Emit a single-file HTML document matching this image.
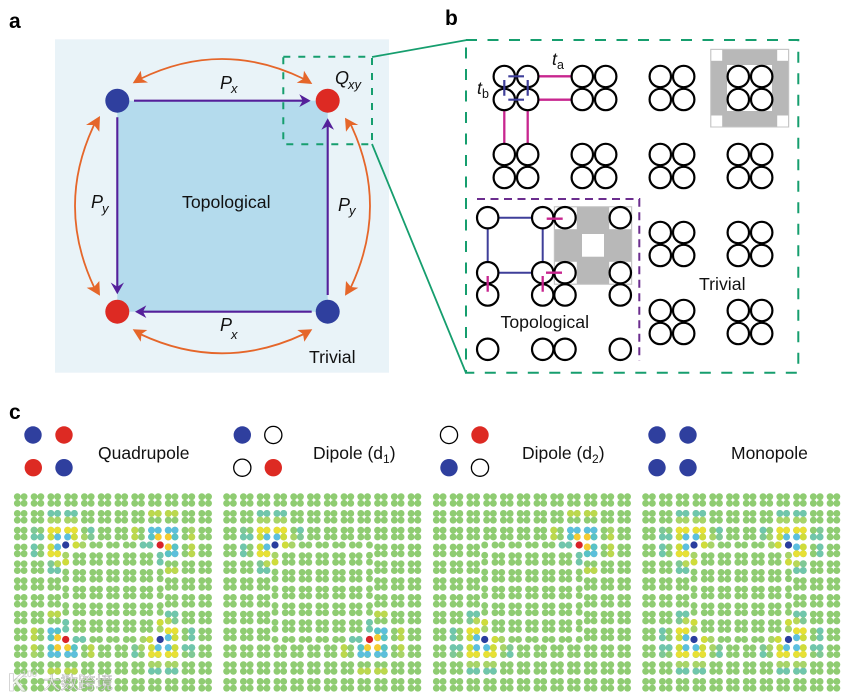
<!DOCTYPE html>
<html lang="en">
<head>
<meta charset="utf-8">
<title>Quadrupole diagram</title>
<style>
html,body{margin:0;padding:0;background:#fff;width:852px;height:697px;overflow:hidden}
svg{display:block}
text{font-family:"Liberation Sans","Noto Sans CJK SC",sans-serif;fill:#111}
.h{font-weight:bold;font-size:21px;fill:#000}
.l{font-size:17.7px}
.q{font-size:17.5px}
.i{font-style:italic;font-size:18px}
.s{font-style:italic;font-size:13px}
.ring circle{fill:none;stroke:#000;stroke-width:2.2}
</style>
</head>
<body>
<svg xmlns="http://www.w3.org/2000/svg" width="852" height="697" viewBox="0 0 852 697">
<defs>
  <filter id="soft" x="-2%" y="-2%" width="104%" height="104%"><feGaussianBlur stdDeviation="0.3"/></filter>
  <g id="c" fill="#8fcc72"><circle cx="-3.35" cy="-3.35" r="3.45"/><circle cx="3.35" cy="-3.35" r="3.45"/><circle cx="-3.35" cy="3.35" r="3.45"/><circle cx="3.35" cy="3.35" r="3.45"/></g>
  <g id="r3"><use href="#c"/><use href="#c" x="16.77"/><use href="#c" x="33.54"/></g>
  <g id="side"><use href="#r3"/><use href="#r3" x="150.93"/></g>
  <g id="row"><use href="#r3"/><use href="#r3" x="50.31"/><use href="#r3" x="100.62"/><use href="#r3" x="150.93"/></g>
  <g id="i5"><use href="#c" x="58.67"/><use href="#c" x="75.44"/><use href="#c" x="92.21"/><use href="#c" x="108.98"/><use href="#c" x="125.75"/></g>
  <g id="ph" fill="#8fcc72"><circle cx="55.32" r="3.45"/><circle cx="62.02" r="3.45"/><circle cx="72.09" r="3.45"/><circle cx="78.79" r="3.45"/><circle cx="88.86" r="3.45"/><circle cx="95.56" r="3.45"/><circle cx="105.63" r="3.45"/><circle cx="112.33" r="3.45"/><circle cx="122.4" r="3.45"/><circle cx="129.1" r="3.45"/></g>
  <g id="pv" fill="#8fcc72"><circle cy="55.32" r="3.45"/><circle cy="62.02" r="3.45"/><circle cy="72.09" r="3.45"/><circle cy="78.79" r="3.45"/><circle cy="88.86" r="3.45"/><circle cy="95.56" r="3.45"/><circle cy="105.63" r="3.45"/><circle cy="112.33" r="3.45"/><circle cy="122.4" r="3.45"/><circle cy="129.1" r="3.45"/></g>
  <g id="base">
    <use href="#row"/><use href="#row" y="16.8"/><use href="#row" y="33.6"/>
    <use href="#side" y="50.4"/><use href="#side" y="67.2"/><use href="#side" y="84"/><use href="#side" y="100.8"/><use href="#side" y="117.6"/><use href="#side" y="134.4"/>
    <use href="#row" y="151.2"/><use href="#row" y="168"/><use href="#row" y="184.8"/>
    <use href="#i5" y="59"/><use href="#i5" y="75.77"/><use href="#i5" y="92.54"/><use href="#i5" y="109.31"/><use href="#i5" y="126.08"/>
    <use href="#ph" y="45"/><use href="#ph" y="139.47"/><use href="#pv" x="45"/><use href="#pv" x="139.47"/>
    <g fill="#8fcc72"><circle cx="45" cy="45" r="3.45"/><circle cx="139.47" cy="45" r="3.45"/><circle cx="45" cy="139.47" r="3.45"/><circle cx="139.47" cy="139.47" r="3.45"/></g>
  </g>
  <g id="cb">
    <g fill="#6fc6ac"><circle cx="30.2" cy="13.4" r="3.45"/><circle cx="36.9" cy="13.4" r="3.45"/><circle cx="46.95" cy="13.4" r="3.45"/><circle cx="53.65" cy="13.4" r="3.45"/><circle cx="13.4" cy="36.9" r="3.45"/><circle cx="20.1" cy="36.9" r="3.45"/><circle cx="70.4" cy="30.2" r="3.45"/><circle cx="13.4" cy="46.95" r="3.45"/><circle cx="13.4" cy="53.65" r="3.45"/><circle cx="30.2" cy="70.4" r="3.45"/><circle cx="36.9" cy="70.4" r="3.45"/></g>
    <g fill="#a8d468"><circle cx="30.2" cy="20.1" r="3.45"/><circle cx="36.9" cy="20.1" r="3.45"/><circle cx="46.95" cy="20.1" r="3.45"/><circle cx="53.65" cy="20.1" r="3.45"/><circle cx="63.7" cy="36.9" r="3.45"/><circle cx="45" cy="55.32" r="3.45"/><circle cx="62.02" cy="45" r="3.45"/></g>
    <g fill="#7fc896"><circle cx="13.4" cy="30.2" r="3.45"/><circle cx="70.4" cy="36.9" r="3.45"/><circle cx="30.2" cy="63.7" r="3.45"/></g>
    <g fill="#e8e035"><circle cx="30.2" cy="30.2" r="3.45"/><circle cx="36.9" cy="30.2" r="3.45"/><circle cx="46.95" cy="30.2" r="3.45"/><circle cx="53.65" cy="30.2" r="3.45"/><circle cx="30.2" cy="53.65" r="3.45"/><circle cx="36.9" cy="53.65" r="3.45"/></g>
    <g fill="#cfdc3a"><circle cx="30.2" cy="36.9" r="3.45"/><circle cx="53.65" cy="36.9" r="3.45"/><circle cx="30.2" cy="46.95" r="3.45"/><circle cx="45" cy="62.02" r="3.45"/><circle cx="55.32" cy="45" r="3.45"/></g>
    <g fill="#b8d858"><circle cx="36.9" cy="63.7" r="3.45"/></g>
    <g fill="#5bbfe0"><circle cx="36.9" cy="36.9" r="3.45"/><circle cx="46.95" cy="36.9" r="3.45"/><circle cx="36.9" cy="46.95" r="3.45"/></g>
    <circle cx="45" cy="45" r="3.6" fill="#2a3c9e"/>
  </g>
  <g id="cr">
    <g fill="#bcd84e"><circle cx="30.2" cy="13.4" r="3.45"/><circle cx="36.9" cy="13.4" r="3.45"/><circle cx="46.95" cy="13.4" r="3.45"/><circle cx="53.65" cy="13.4" r="3.45"/><circle cx="13.4" cy="36.9" r="3.45"/><circle cx="13.4" cy="46.95" r="3.45"/><circle cx="13.4" cy="53.65" r="3.45"/><circle cx="30.2" cy="70.4" r="3.45"/><circle cx="36.9" cy="70.4" r="3.45"/><circle cx="70.4" cy="30.2" r="3.45"/><circle cx="70.4" cy="36.9" r="3.45"/></g>
    <g fill="#a8d468"><circle cx="13.4" cy="30.2" r="3.45"/></g>
    <g fill="#5bbfdc"><circle cx="30.2" cy="30.2" r="3.45"/><circle cx="36.9" cy="30.2" r="3.45"/><circle cx="46.95" cy="30.2" r="3.45"/><circle cx="53.65" cy="30.2" r="3.45"/><circle cx="30.2" cy="53.65" r="3.45"/></g>
    <g fill="#58c2c8"><circle cx="30.2" cy="36.9" r="3.45"/><circle cx="53.65" cy="36.9" r="3.45"/><circle cx="30.2" cy="46.95" r="3.45"/><circle cx="36.9" cy="53.65" r="3.45"/></g>
    <g fill="#f5cc30"><circle cx="36.9" cy="36.9" r="3.45"/><circle cx="46.95" cy="36.9" r="3.45"/><circle cx="36.9" cy="46.95" r="3.45"/></g>
    <g fill="#6fc6ac"><circle cx="45" cy="55.32" r="3.45"/><circle cx="45" cy="62.02" r="3.45"/><circle cx="55.32" cy="45" r="3.45"/><circle cx="62.02" cy="45" r="3.45"/></g>
    <circle cx="45" cy="45" r="3.6" fill="#d9242a"/>
  </g>
  <g id="q" class="ring"><circle cx="-11.7" cy="-11.5" r="10.7"/><circle cx="11.7" cy="-11.5" r="10.7"/><circle cx="-11.7" cy="11.5" r="10.7"/><circle cx="11.7" cy="11.5" r="10.7"/></g>
</defs>

<!-- panel a -->
<text class="h" x="9" y="28">a</text>
<rect x="55" y="39.3" width="334" height="333.4" fill="#e9f3f8"/>
<rect x="117.3" y="100.7" width="210.4" height="211" fill="#b4dbed"/>
<g fill="none" stroke="#e5662a" stroke-width="1.8">
  <path d="M140,79 Q222,39 304,79"/>
  <path d="M140,334 Q222,372.6 304,334"/>
  <path d="M94,125 Q56,206 94,287"/>
  <path d="M351,125 Q389,206 351,287"/>
</g>
<g fill="#e5662a">
  <polygon points="132.7,83.3 148,82.5 142,79 140.7,70.7"/>
  <polygon points="312.3,84 296.7,82.7 303,79 304,70.7"/>
  <polygon points="132.7,329.3 147.3,330 141.5,334 140.7,341.7"/>
  <polygon points="312.3,329.3 297.3,330 303,334 304.3,341.7"/>
  <polygon points="100,116 86,125 94,125 99.3,131.7"/>
  <polygon points="100,295.7 86.7,287.7 94,287 99.3,281"/>
  <polygon points="345,117.7 358.3,125 351,125 346,131.7"/>
  <polygon points="345,295.7 358.3,287.7 351,287 346,281"/>
</g>
<g stroke="#54209a" stroke-width="2.1" fill="none">
  <path d="M134,100.7H303"/><path d="M327.7,295V126"/><path d="M117.3,117.3V287"/><path d="M311.7,311.7H143"/>
</g>
<g fill="#54209a">
  <polygon points="310.7,100.7 299.3,94.3 302.7,100.7 299.3,107"/>
  <polygon points="327.7,118.3 321.4,129.7 327.7,126.3 334,129.7"/>
  <polygon points="117.3,294.3 110.7,282.5 117.3,286.7 124,282.5"/>
  <polygon points="135,311.7 146.3,305.4 143,311.7 146.3,318"/>
</g>
<circle cx="117.3" cy="100.7" r="12" fill="#2f3f9e"/>
<circle cx="327.7" cy="100.7" r="12" fill="#dd2a23"/>
<circle cx="117.3" cy="311.7" r="12" fill="#dd2a23"/>
<circle cx="327.7" cy="311.7" r="12" fill="#2f3f9e"/>
<rect x="283.3" y="56.7" width="88.7" height="87.6" fill="none" stroke="#169e6e" stroke-width="2" stroke-dasharray="7 8"/>
<path d="M372,57L467,40M372,144L466,373" fill="none" stroke="#169e6e" stroke-width="1.8"/>
<text class="i" x="220" y="89">P</text><text class="s" x="231" y="93">x</text>
<text class="i" x="220" y="331">P</text><text class="s" x="231" y="339">x</text>
<text class="i" x="91" y="208">P</text><text class="s" x="102" y="213">y</text>
<text class="i" x="338" y="211">P</text><text class="s" x="349" y="215">y</text>
<text class="i" x="335" y="84">Q</text><text class="s" x="348" y="89">xy</text>
<text class="l" x="182" y="208">Topological</text>
<text class="l" x="309" y="363">Trivial</text>

<!-- panel b -->
<text class="h" x="445" y="25">b</text>
<rect x="554.3" y="206.7" width="77.4" height="77.6" fill="#b8b8b8"/>
<g fill="#fff"><rect x="554.8" y="207.2" width="22" height="22"/><rect x="609.2" y="207.2" width="22" height="22"/><rect x="554.8" y="261.8" width="22" height="22"/><rect x="609.2" y="261.8" width="22" height="22"/><rect x="582" y="234" width="22" height="22.7"/></g>
<rect x="554.3" y="206.7" width="77.4" height="77.6" fill="none" stroke="#c4c4c4" stroke-width="1"/>
<rect x="710.7" y="49.3" width="78" height="77.7" fill="#b8b8b8"/>
<g fill="#fff"><rect x="711.2" y="49.8" width="11" height="11"/><rect x="777.2" y="49.8" width="11" height="11"/><rect x="711.2" y="115.5" width="11" height="11"/><rect x="777.2" y="115.5" width="11" height="11"/><rect x="727" y="65" width="45" height="46"/></g>
<rect x="710.7" y="49.3" width="78" height="77.7" fill="none" stroke="#c4c4c4" stroke-width="1"/>
<path d="M539,76.3H571M539,99.7H571M504.3,110V144M527.7,110V144" stroke="#c8268f" stroke-width="2.3" fill="none"/>
<path d="M498.7,217.7H531.7M498.7,272.7H531.7M487.7,228.7V261.7M542.7,228.7V261.7" stroke="#3f3f99" stroke-width="2" fill="none"/>
<use href="#q" x="516" y="88"/><use href="#q" x="594" y="88"/><use href="#q" x="672" y="88"/><use href="#q" x="750" y="88"/>
<use href="#q" x="516" y="166"/><use href="#q" x="594" y="166"/><use href="#q" x="672" y="166"/><use href="#q" x="750" y="166"/>
<use href="#q" x="672" y="244"/><use href="#q" x="750" y="244"/><use href="#q" x="672" y="322"/><use href="#q" x="750" y="322"/>
<g class="ring">
  <circle cx="487.7" cy="217.7" r="10.7"/><circle cx="542.7" cy="217.7" r="10.7"/><circle cx="565" cy="217.7" r="10.7"/><circle cx="620.3" cy="217.7" r="10.7"/>
  <circle cx="487.7" cy="272.7" r="10.7"/><circle cx="542.7" cy="272.7" r="10.7"/><circle cx="565" cy="272.7" r="10.7"/><circle cx="620.3" cy="272.7" r="10.7"/>
  <circle cx="487.7" cy="295" r="10.7"/><circle cx="542.7" cy="295" r="10.7"/><circle cx="565" cy="295" r="10.7"/><circle cx="620.3" cy="295" r="10.7"/>
  <circle cx="487.7" cy="349.3" r="10.7"/><circle cx="542.7" cy="349.3" r="10.7"/><circle cx="565" cy="349.3" r="10.7"/><circle cx="620.3" cy="349.3" r="10.7"/>
</g>
<path d="M508.3,76.3H524M508.3,99.7H524M504.3,80V95.7M527.7,80V95.7" stroke="#3f3f99" stroke-width="2.2" fill="none"/>
<path d="M546.7,218.7H562.7M546,272.7H562M487.7,276V291.7M542.7,276V291.7" stroke="#c8268f" stroke-width="2.3" fill="none"/>
<path d="M477,199H639.3V361" fill="none" stroke="#6b2d8e" stroke-width="2" stroke-dasharray="8 5.5"/>
<rect x="466" y="40" width="332.3" height="332.7" fill="none" stroke="#169e6e" stroke-width="2" stroke-dasharray="11 10.5"/>
<text class="l" x="552" y="65" style="font-style:italic">t</text><text x="557" y="69" font-size="12.5">a</text>
<text class="l" x="477" y="94" style="font-style:italic">t</text><text x="482" y="98" font-size="12.5">b</text>
<text class="l" x="500.5" y="328">Topological</text>
<text class="l" x="699" y="290">Trivial</text>

<!-- panel c -->
<text class="h" x="9" y="419">c</text>
<g fill="#2f3f9e"><circle cx="33" cy="435" r="8.7"/><circle cx="64" cy="467.7" r="8.7"/><circle cx="242.3" cy="435" r="8.7"/><circle cx="449" cy="467.7" r="8.7"/><circle cx="657" cy="435" r="8.7"/><circle cx="688" cy="435" r="8.7"/><circle cx="657" cy="467.7" r="8.7"/><circle cx="688" cy="467.7" r="8.7"/></g>
<g fill="#dd2a23"><circle cx="64" cy="435" r="8.7"/><circle cx="33.3" cy="467.7" r="8.7"/><circle cx="273.3" cy="467.7" r="8.7"/><circle cx="480" cy="435" r="8.7"/></g>
<g fill="#fff" stroke="#000" stroke-width="1.3"><circle cx="273.3" cy="435" r="8.6"/><circle cx="242.3" cy="467.7" r="8.6"/><circle cx="449" cy="435" r="8.6"/><circle cx="480" cy="467.7" r="8.6"/></g>
<text class="q" x="98" y="459">Quadrupole</text>
<text class="q" x="313" y="459">Dipole (d<tspan font-size="12" dy="4">1</tspan><tspan dy="-4">)</tspan></text>
<text class="q" x="522" y="459">Dipole (d<tspan font-size="12" dy="4">2</tspan><tspan dy="-4">)</tspan></text>
<text class="q" x="731" y="459">Monopole</text>

<g filter="url(#soft)">
<g transform="translate(20.7,500)">
  <use href="#base"/>
  <use href="#cb"/>
  <use href="#cr" transform="translate(184.47,0) scale(-1,1)"/>
  <use href="#cr" transform="translate(0,184.47) scale(1,-1)"/>
  <use href="#cb" transform="translate(184.47,184.47) scale(-1,-1)"/>
</g>
<g transform="translate(230,500)">
  <use href="#base"/>
  <use href="#cb"/>
  <use href="#cr" transform="translate(184.47,184.47) scale(-1,-1)"/>
</g>
<g transform="translate(439.7,500)">
  <use href="#base"/>
  <use href="#cr" transform="translate(184.47,0) scale(-1,1)"/>
  <use href="#cb" transform="translate(0,184.47) scale(1,-1)"/>
</g>
<g transform="translate(649,500)">
  <use href="#base"/>
  <use href="#cb"/>
  <use href="#cb" transform="translate(184.47,0) scale(-1,1)"/>
  <use href="#cb" transform="translate(0,184.47) scale(1,-1)"/>
  <use href="#cb" transform="translate(184.47,184.47) scale(-1,-1)"/>
</g>
</g>

<!-- watermark -->
<g opacity="0.8">
  <text x="8" y="691" font-size="25" font-weight="bold" style="fill:#fff" stroke="#aaa" stroke-width="0.6">K</text>
  <text x="22" y="677" font-size="9" style="fill:#fff" stroke="#aaa" stroke-width="0.3">100</text>
  <text x="43" y="689" font-size="17.5" style="fill:#fff" stroke="#999" stroke-width="0.5">大数跨境</text>
</g>
</svg>
</body>
</html>
